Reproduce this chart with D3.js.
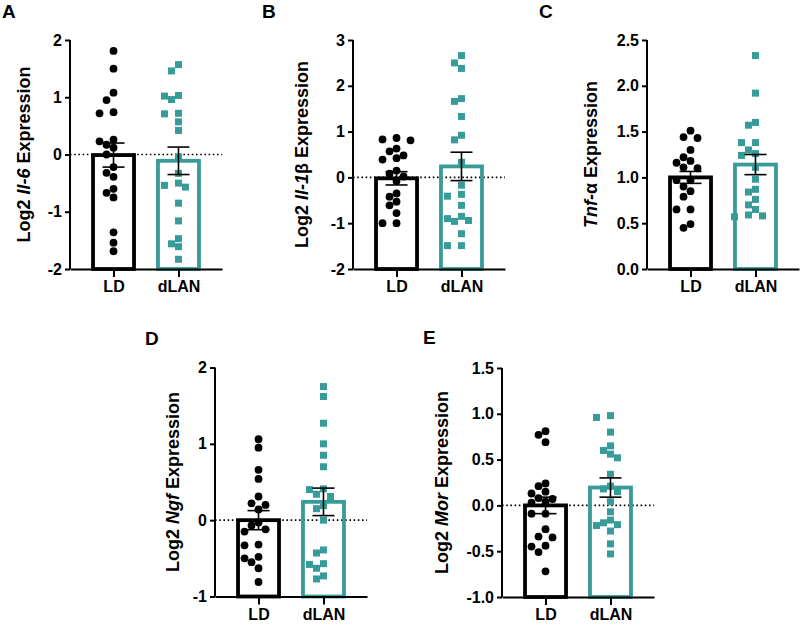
<!DOCTYPE html>
<html lang="en">
<head>
    <meta charset="UTF-8">
    <title>LD vs dLAN expression</title>
    <script src="https://d3js.org/d3.v7.min.js"></script>
    <style>
        body { margin: 0; background: white; }
        svg { display: block; font-family: "Liberation Sans", Arial, sans-serif; font-weight: bold; }
    </style>
</head>
<body>
<svg width="800" height="624"></svg>
<script>
    const groups = ["LD", "dLAN"];

    // values, one point per animal
    const il6LD = [1.81, 1.50, 1.08, 0.95, 0.74, 0.72, 0.26, 0.23, 0.17, 0.12, 0.0, -0.22, -0.32, -0.39, -0.60, -0.67, -0.75, -1.36, -1.54, -1.69];
    const il6DLAN = [1.57, 1.46, 1.03, 1.02, 0.96, 0.72, 0.71, 0.57, 0.42, -0.04, -0.33, -0.50, -0.54, -0.57, -0.85, -1.16, -1.47, -1.56, -1.61, -1.83];
    const il1bLD = [0.86, 0.83, 0.81, 0.63, 0.57, 0.48, 0.42, 0.39, 0.15, 0.08, 0.02, -0.08, -0.35, -0.42, -0.53, -0.61, -0.78, -1.0, -1.0];
    const il1bDLAN = [2.66, 2.50, 2.38, 1.72, 1.66, 1.33, 0.92, 0.82, 0.33, -0.17, -0.37, -0.41, -0.61, -0.85, -0.90, -0.94, -0.96, -1.23, -1.49, -1.49];
    const tnfLD = [1.51, 1.44, 1.43, 1.30, 1.22, 1.18, 1.16, 1.11, 1.10, 0.97, 0.97, 0.90, 0.85, 0.79, 0.65, 0.65, 0.49, 0.45];
    const tnfDLAN = [2.33, 1.92, 1.60, 1.57, 1.38, 1.38, 1.30, 1.26, 1.24, 1.11, 0.98, 0.87, 0.84, 0.76, 0.70, 0.65, 0.59, 0.58, 0.57];
    const ngfLD = [1.06, 0.95, 0.66, 0.54, 0.31, 0.22, 0.20, 0.14, -0.03, -0.07, -0.12, -0.15, -0.32, -0.33, -0.48, -0.50, -0.55, -0.63, -0.81];
    const ngfDLAN = [1.75, 1.62, 1.27, 1.00, 0.85, 0.70, 0.41, 0.40, 0.34, 0.31, 0.19, 0.15, 0.0, -0.39, -0.43, -0.57, -0.58, -0.63, -0.73, -0.77];
    const morLD = [0.81, 0.77, 0.69, 0.24, 0.21, 0.15, 0.13, 0.08, 0.07, 0.04, 0.03, -0.09, -0.09, -0.26, -0.34, -0.35, -0.44, -0.45, -0.51, -0.72];
    const morDLAN = [0.98, 0.96, 0.80, 0.65, 0.60, 0.56, 0.52, 0.34, 0.21, 0.18, 0.15, 0.04, -0.07, -0.16, -0.19, -0.21, -0.22, -0.28, -0.42, -0.53];

    // bar heights (mean) and error bars (SEM), [LD, dLAN]
    const il6Mean = [-0.01, -0.11], il6Sem = [0.21, 0.24];
    const il1bMean = [-0.02, 0.24], il1bSem = [0.145, 0.31];
    const tnfMean = [1.0, 1.14], tnfSem = [0.065, 0.11];
    const ngfMean = [0.0, 0.24], ngfSem = [0.125, 0.18];
    const morMean = [0.0, 0.195], morSem = [0.09, 0.105];

    const il6Ticks = [-2, -1, 0, 1, 2];
    const il1bTicks = [-2, -1, 0, 1, 2, 3];
    const tnfTicks = [0, 0.5, 1.0, 1.5, 2.0, 2.5];
    const ngfTicks = [-1, 0, 1, 2];
    const morTicks = [-1.0, -0.5, 0.0, 0.5, 1.0, 1.5];

    const black = "#000";
    const teal = "#379c99";

    const panels = [
        { letter: "A", pre: "Log2 ", gene: "Il-6", post: " Expression", pts: [il6LD, il6DLAN], mean: il6Mean, sem: il6Sem, ticks: il6Ticks, dec: 0, ox: 70, oy: 40, tOff: 40, lx: 2, ly: 18 },
        { letter: "B", pre: "Log2 ", gene: "Il-1", post: "β Expression", pts: [il1bLD, il1bDLAN], mean: il1bMean, sem: il1bSem, ticks: il1bTicks, dec: 0, ox: 353, oy: 40, tOff: 45, lx: 262, ly: 18 },
        { letter: "C", pre: "", gene: "Tnf-", post: "α Expression", pts: [tnfLD, tnfDLAN], mean: tnfMean, sem: tnfSem, ticks: tnfTicks, dec: 1, ox: 647, oy: 40, tOff: 50, lx: 539, ly: 18 },
        { letter: "D", pre: "Log2 ", gene: "Ngf", post: " Expression", pts: [ngfLD, ngfDLAN], mean: ngfMean, sem: ngfSem, ticks: ngfTicks, dec: 0, ox: 215, oy: 367.5, tOff: 36, lx: 145, ly: 345 },
        { letter: "E", pre: "Log2 ", gene: "Mor", post: " Expression", pts: [morLD, morDLAN], mean: morMean, sem: morSem, ticks: morTicks, dec: 1, ox: 502, oy: 368, tOff: 54, lx: 423, ly: 344 }
    ];

    const W = 152, H = 229, barW = 41, capW = 22;
    const svg = d3.select("svg");

    // simple beeswarm: push points sideways until they stop overlapping
    function swarm(vals, y, step, minD) {
        const placed = [];
        vals.map(v => ({ v: v, y: y(v) }))
            .sort((a, b) => a.y - b.y)
            .forEach(p => {
                for (let k = 0; k < 30; k++) {
                    const off = k === 0 ? 0 : (k % 2 ? -1 : 1) * Math.ceil(k / 2) * step;
                    if (placed.every(q => Math.hypot(q.x - off, q.y - p.y) >= minD)) { p.x = off; break; }
                }
                placed.push(p);
            });
        return placed;
    }

    panels.forEach(function (p) {
        const lo = d3.min(p.ticks), hi = d3.max(p.ticks);
        const y = d3.scaleLinear().domain([lo, hi]).range([H, 0]);
        const x = d3.scalePoint().domain(groups).range([0, W]).padding(0.67);

        const g = svg.append("g").attr("transform", `translate(${p.ox},${p.oy})`);

        // dotted zero line
        if (lo < 0) {
            g.append("line")
                .attr("x1", 0).attr("x2", W)
                .attr("y1", y(0)).attr("y2", y(0))
                .attr("stroke", black).attr("stroke-width", 1.6)
                .attr("stroke-dasharray", "1.6,2.6");
        }

        // bars
        g.selectAll(".bar").data(groups).enter().append("rect")
            .attr("x", d => x(d) - barW / 2)
            .attr("width", barW)
            .attr("y", (d, i) => y(p.mean[i]))
            .attr("height", (d, i) => H - y(p.mean[i]))
            .attr("fill", "none")
            .attr("stroke", (d, i) => i ? teal : black)
            .attr("stroke-width", 3.8);

        // points
        groups.forEach(function (grp, i) {
            const pts = swarm(p.pts[i], y, 7, 7.5);
            if (i === 0) {
                g.selectAll(".c" + i).data(pts).enter().append("circle")
                    .attr("cx", d => x(grp) + d.x)
                    .attr("cy", d => d.y)
                    .attr("r", 3.9)
                    .attr("fill", black);
            } else {
                g.selectAll(".s" + i).data(pts).enter().append("rect")
                    .attr("x", d => x(grp) + d.x - 3.5)
                    .attr("y", d => d.y - 3.5)
                    .attr("width", 7).attr("height", 7)
                    .attr("fill", teal);
            }
        });

        // error bars
        groups.forEach(function (grp, i) {
            const cx = x(grp), t = y(p.mean[i] + p.sem[i]), b = y(p.mean[i] - p.sem[i]);
            const eg = g.append("g").attr("stroke", black).attr("stroke-width", 1.6);
            eg.append("line").attr("x1", cx).attr("x2", cx).attr("y1", t).attr("y2", b);
            eg.append("line").attr("x1", cx - capW / 2).attr("x2", cx + capW / 2).attr("y1", t).attr("y2", t);
            eg.append("line").attr("x1", cx - capW / 2).attr("x2", cx + capW / 2).attr("y1", b).attr("y2", b);
        });

        // axes
        const ya = g.append("g")
            .call(d3.axisLeft(y).tickValues(p.ticks).tickSize(5).tickPadding(3)
                .tickFormat(d => d.toFixed(p.dec)));
        const xa = g.append("g").attr("transform", `translate(0,${H})`)
            .call(d3.axisBottom(x).tickSize(8).tickSizeOuter(0).tickPadding(4));
        [ya, xa].forEach(a => {
            a.selectAll("path, line").attr("stroke", black).attr("stroke-width", 2);
            a.selectAll("text").attr("fill", black).style("font-size", "16px")
                .style("font-weight", "bold");
        });
        ya.select(".domain").attr("d", `M0,${H}V0`);

        // y title
        const tt = g.append("text")
            .attr("transform", `translate(${-p.tOff},${H / 2}) rotate(-90)`)
            .attr("text-anchor", "middle")
            .style("font-size", "18px");
        if (p.pre) tt.append("tspan").text(p.pre);
        tt.append("tspan").style("font-style", "italic").text(p.gene);
        tt.append("tspan").text(p.post);

        // panel letter
        svg.append("text").attr("x", p.lx).attr("y", p.ly)
            .style("font-size", "19px").text(p.letter);
    });
</script>
</body>
</html>
